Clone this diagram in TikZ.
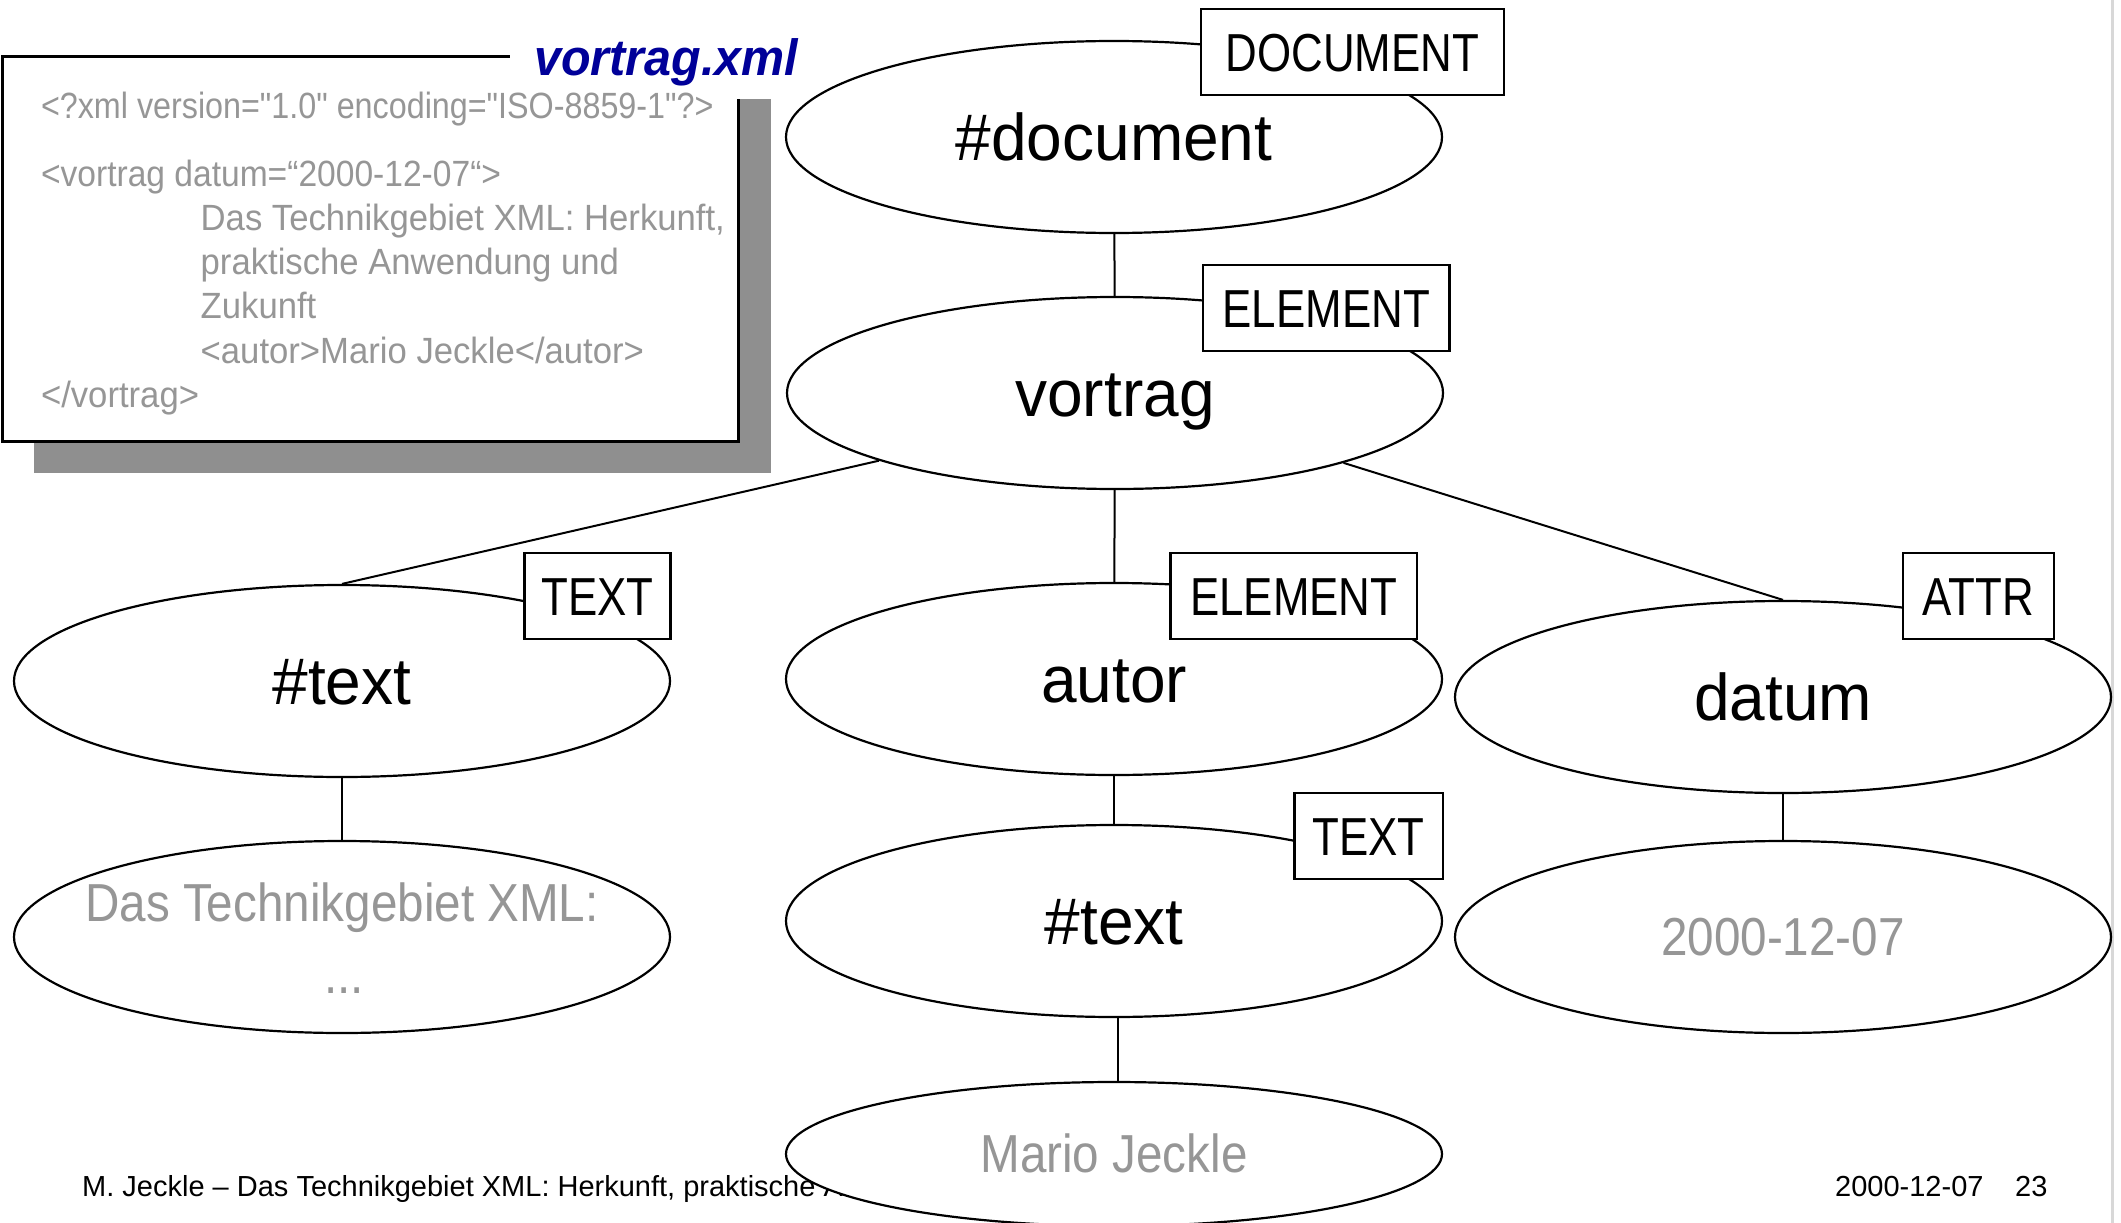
\documentclass[tikz,border=0pt]{standalone}
\usepackage{fontspec}
\setmainfont{Liberation Sans}
\newfontfamily\fbig[FakeStretch=0.97]{Liberation Sans}
\newfontfamily\fgrey[FakeStretch=0.89]{Liberation Sans}
\newfontfamily\flab[FakeStretch=0.82]{Liberation Sans}
\newfontfamily\fcode[FakeStretch=0.95]{Liberation Sans}
\newfontfamily\fcodenarrow[FakeStretch=0.885]{Liberation Sans}
\newfontfamily\fcodemid[FakeStretch=0.92]{Liberation Sans}
\newfontfamily\ftitle[FakeStretch=0.95]{Liberation Sans}
\usetikzlibrary{shapes.geometric}
\definecolor{txtgrey}{RGB}{150,150,150}
\definecolor{shadowgrey}{RGB}{143,143,143}
\definecolor{titleblue}{RGB}{0,0,153}
\definecolor{rulegrey}{RGB}{216,216,216}
\begin{document}
\begin{tikzpicture}[x=1pt,y=-1pt,
  ell/.style={ellipse, draw, line width=2.2pt, fill=white, minimum width=656pt, minimum height=192pt, inner sep=0pt},
  bigtxt/.style={font=\fbig\fontsize{66}{80}\selectfont, text height=47.3pt, text depth=0pt},
  greytxt/.style={font=\fgrey\fontsize{53.5}{64}\selectfont, text=txtgrey},
  lab/.style={draw, line width=2.6pt, fill=white, inner sep=0pt, minimum height=86pt, font=\flab\fontsize{53.5}{64}\selectfont, text height=38.3pt, text depth=0pt},
  conn/.style={line width=2pt},
  code/.style={anchor=base west, inner sep=0pt, text=txtgrey, font=\fcode\fontsize{36.5}{44}\selectfont},
  foot/.style={anchor=base west, inner sep=0pt, font=\fontsize{29}{35}\selectfont}
]
\clip (0,0) rectangle (2121,1223);
\fill[white] (0,0) rectangle (2121,1223);
\draw[rulegrey, line width=2.5pt] (2112.7,0) -- (2112.7,1223);

% footer
\node[foot] (foot1) at (82,1196.7) {M. Jeckle – Das Technikgebiet XML: Herkunft, praktische Anwendung und Zukunft};
\node[foot] (foot2) at (1835,1196.7) {2000-12-07};
\node[foot] (foot3) at (2015,1196.7) {23};

% code box
\fill[shadowgrey] (33.7,88.8) rectangle (771.4,473.3);
\draw[line width=2.6pt, fill=white] (2.7,56.8) rectangle (738.5,441.5);
\node[anchor=base west, fill=white, inner xsep=24pt, inner ysep=13.3pt, text=titleblue,
      font=\ftitle\bfseries\itshape\fontsize{51}{60}\selectfont] (title) at (510,75) {vortrag.xml};
\node[code, font=\fcodenarrow\fontsize{36.5}{44}\selectfont] (c1) at (40.8,118.3) {<?xml version="1.0" encoding="ISO-8859-1"?>};
\node[code, font=\fcodemid\fontsize{36.5}{44}\selectfont] (c2) at (40.8,186.7) {<vortrag datum=“2000-12-07“>};
\node[code] (c3) at (200.5,230.7) {Das Technikgebiet XML: Herkunft,};
\node[code] (c4) at (200.5,274) {praktische Anwendung und};
\node[code] (c5) at (200.5,318.3) {Zukunft};
\node[code] (c6) at (200.5,363.3) {<autor>Mario Jeckle</autor>};
\node[code] (c7) at (40.8,407.3) {</vortrag>};

% tree
\node[ell, bigtxt] (doc) at (1114,137) {\#document};
\node[ell, bigtxt] (vor) at (1115,393) {vortrag};
\node[ell, bigtxt] (t1) at (342,681) {\#text};
\node[ell, bigtxt] (aut) at (1114,679) {autor};
\node[ell, bigtxt] (dat) at (1783,697) {datum};
\node[ell, greytxt, text height=38.3pt, text depth=70pt] (das) at (342,937) {\makebox[0pt]{Das Technikgebiet XML:}};
\node[greytxt, anchor=base, inner sep=0pt] (dots) at (344,993.3) {...};
\node[ell, bigtxt] (t2) at (1114,921) {\#text};
\node[ell, greytxt, text height=36.7pt, text depth=0pt] (dte) at (1783,937) {\makebox[0pt]{2000-12-07}};
\node[ell, greytxt, minimum height=144pt, text height=37pt, text depth=0pt] (mar) at (1114,1154) {\makebox[0pt]{Mario Jeckle}};

\draw[conn] (doc) -- (vor);
\draw[conn] (vor.196.5) -- (t1.north);
\draw[conn] (vor) -- (aut);
\draw[conn] (vor.343.5) -- (dat.north);
\draw[conn] (aut) -- (t2);
\draw[conn] (t1) -- (das);
\draw[conn] (dat) -- (dte);
\draw[conn] ([xshift=4pt]t2.south) -- ([xshift=4pt]mar.north);

% type labels
\node[lab, minimum width=303pt] (ldoc) at (1352.5,52) {DOCUMENT};
\node[lab, minimum width=246.6pt] (lvor) at (1326.3,308) {ELEMENT};
\node[lab, minimum width=146pt] (lt1) at (597.5,596) {TEXT};
\node[lab, minimum width=246.3pt] (laut) at (1293.8,596) {ELEMENT};
\node[lab, minimum width=151pt] (ldat) at (1978.5,596) {ATTR};
\node[lab, minimum width=148.6pt] (lt2) at (1368.7,836) {TEXT};
\end{tikzpicture}
\end{document}
